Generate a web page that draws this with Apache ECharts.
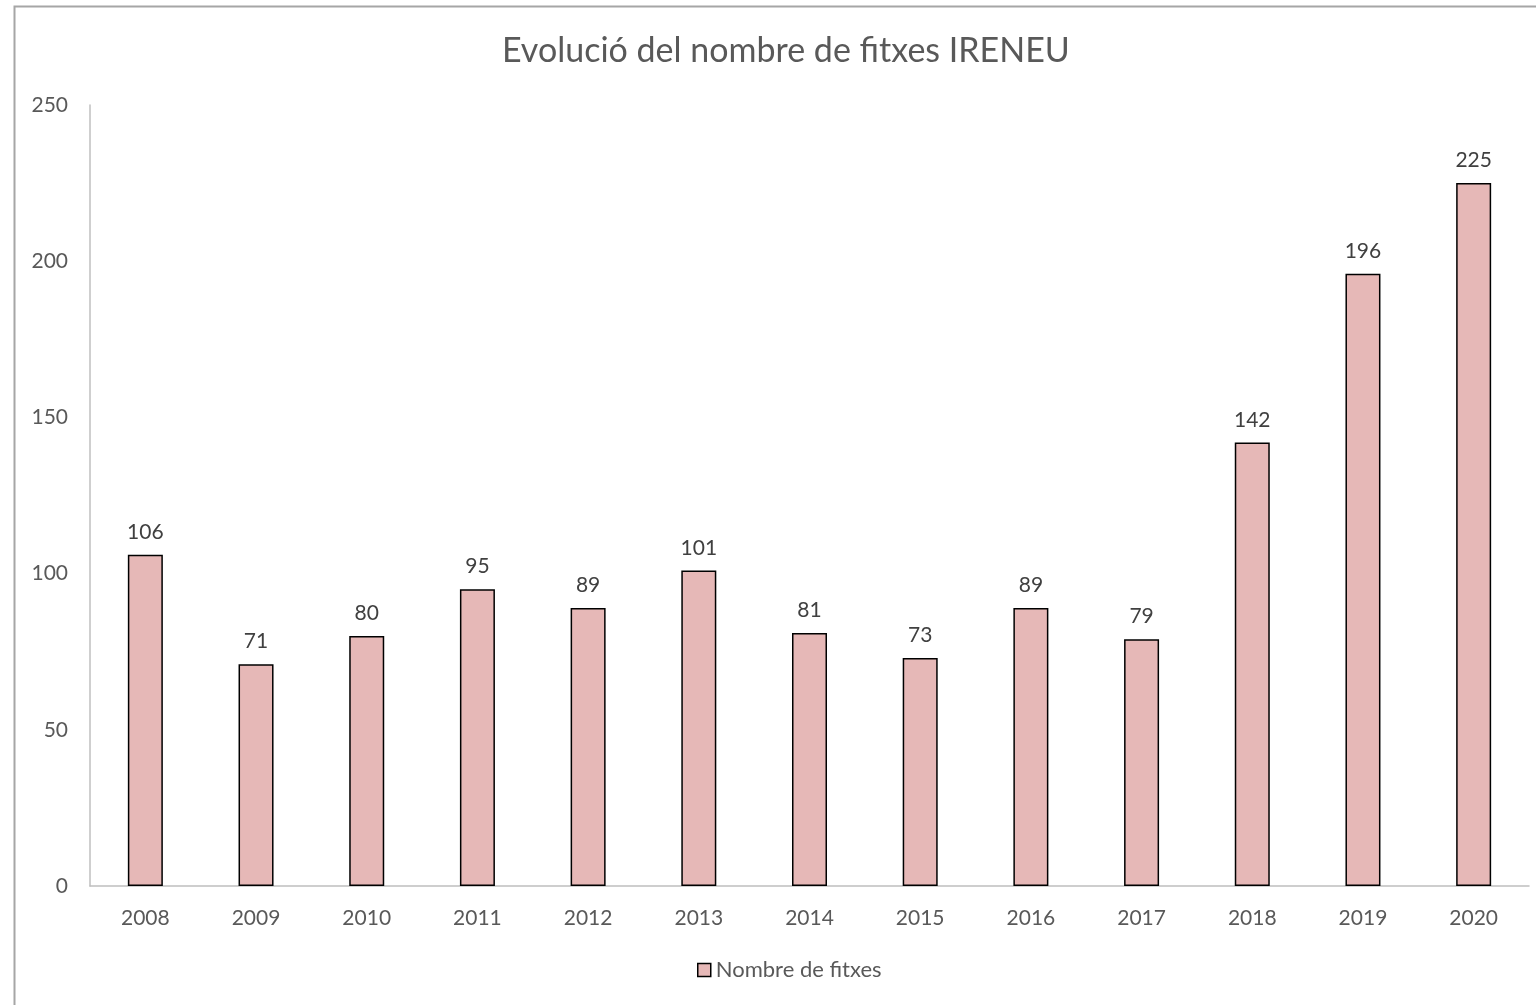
<!DOCTYPE html>
<html>
<head>
<meta charset="utf-8">
<script src="https://cdn.jsdelivr.net/npm/echarts@6/dist/echarts.min.js"></script>
<style>
  html, body { margin: 0; padding: 0; background: #fff; }
  #chart { width: 1536px; height: 1005px; }
</style>
</head>
<body>
<div id="chart"></div>
<script>
	// dades del gràfic
	var years = ['2008', '2009', '2010', '2011', '2012', '2013', '2014', '2015', '2016', '2017', '2018', '2019', '2020'];
	var fitxes = [106, 71, 80, 95, 89, 101, 81, 73, 89, 79, 142, 196, 225];
	var titol = 'Evolució del nombre de fitxes IRENEU';
	var nomSerie = 'Nombre de fitxes';

	var chart = echarts.init(document.getElementById('chart'));
	var fontFam = 'Lato, "Open Sans", sans-serif';

	chart.setOption({
		animation: false,
		textStyle: { fontFamily: fontFam },
		graphic: [{
			type: 'rect',
			shape: { x: 14.5, y: 6.5, width: 1540, height: 1020 },
			style: { fill: null, stroke: '#a6a6a6', lineWidth: 2 },
			silent: true
		}],
		title: {
			text: titol,
			left: 497,
			top: 29,
			textStyle: { color: '#595959', fontSize: 34, fontWeight: 'normal', fontFamily: fontFam }
		},
		legend: {
			data: [nomSerie],
			bottom: 19,
			left: 692,
			itemWidth: 13,
			itemHeight: 13,
			icon: 'rect',
			itemStyle: { color: '#e6b8b7', borderColor: '#000', borderWidth: 1.5 },
			textStyle: { color: '#595959', fontSize: 22, fontFamily: fontFam }
		},
		grid: { left: 90, right: 7, top: 105, bottom: 119, containLabel: false },
		xAxis: {
			type: 'category',
			data: years,
			axisLine: { lineStyle: { color: '#bfbfbf', width: 1.5 } },
			axisTick: { show: false },
			axisLabel: { color: '#595959', fontSize: 21, margin: 22, fontFamily: fontFam }
		},
		yAxis: {
			type: 'value',
			min: 0,
			max: 250,
			interval: 50,
			axisLine: { show: true, lineStyle: { color: '#bfbfbf', width: 1.5 } },
			axisTick: { show: false },
			splitLine: { show: false },
			axisLabel: { color: '#595959', fontSize: 21, margin: 22, fontFamily: fontFam }
		},
		series: [{
			name: nomSerie,
			type: 'bar',
			data: fitxes,
			barWidth: 35,
			itemStyle: { color: '#e6b8b7', borderColor: '#000', borderWidth: 1.5 },
			label: {
				show: true,
				position: 'top',
				distance: 12,
				color: '#404040',
				fontSize: 21,
				fontFamily: fontFam
			}
		}]
	});
</script>
</body>
</html>
